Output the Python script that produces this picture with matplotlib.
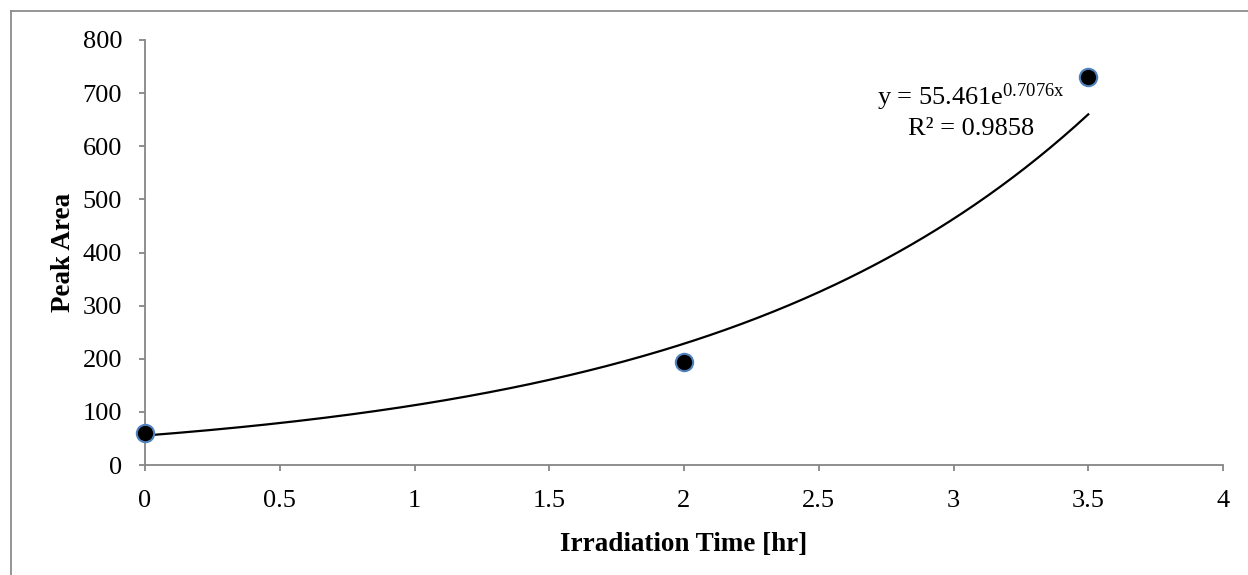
import numpy as np
import matplotlib
matplotlib.use("Agg")
import matplotlib.pyplot as plt
from matplotlib.lines import Line2D

# Measured peak areas versus irradiation time
irradiation_time = [0.0, 2.0, 3.5]
peak_area = [60, 193, 730]

# Exponential trendline parameters (y = a * exp(b * x))
fit_a = 55.461
fit_b = 0.7076
fit_r2 = 0.9858

x_ticks = [0, 0.5, 1, 1.5, 2, 2.5, 3, 3.5, 4]
y_ticks = [0, 100, 200, 300, 400, 500, 600, 700, 800]

plt.rcParams["font.family"] = ["Liberation Serif", "DejaVu Serif"]
plt.rcParams["mathtext.fontset"] = "custom"
plt.rcParams["mathtext.rm"] = "Liberation Serif"
plt.rcParams["mathtext.it"] = "Liberation Serif:italic"
plt.rcParams["mathtext.bf"] = "Liberation Serif:bold"

W, H = 1248, 575
fig = plt.figure(figsize=(W / 100, H / 100), dpi=100)
fig.patch.set_facecolor("white")

# chart area outline (top and left edges fall inside the image)
frame_col = "#8c8c8c"
fig.add_artist(Line2D([11 / W, 11 / W], [0, 1 - 11 / H], color=frame_col, lw=1.3,
                      transform=fig.transFigure))
fig.add_artist(Line2D([11 / W, 1], [1 - 11 / H, 1 - 11 / H], color=frame_col, lw=1.3,
                      transform=fig.transFigure))

ax = fig.add_axes([145 / W, (H - 465) / H, (1223 - 145) / W, (465 - 40) / H])

axis_col = "#868686"
for side in ("top", "right"):
    ax.spines[side].set_visible(False)
for side in ("left", "bottom"):
    ax.spines[side].set_color(axis_col)
    ax.spines[side].set_linewidth(1.3)

ax.set_xlim(0, 4)
ax.set_ylim(0, 800)
ax.set_xticks(x_ticks)
ax.set_xticklabels([f"{t:g}" for t in x_ticks])
ax.set_yticks(y_ticks)
ax.set_yticklabels([f"{t:g}" for t in y_ticks])
ax.tick_params(axis="both", direction="out", length=4.5, width=1.3, color=axis_col,
               labelsize=19, labelcolor="black")
ax.tick_params(axis="x", pad=13.5)
ax.tick_params(axis="y", pad=12)
for lab in ax.get_xticklabels() + ax.get_yticklabels():
    lab.set_clip_on(False)

# trendline
xs = np.linspace(0, 3.5, 300)
ax.plot(xs, fit_a * np.exp(fit_b * xs), color="black", lw=1.6, zorder=2, clip_on=False)

# data points
ax.plot(irradiation_time, peak_area, linestyle="none", marker="o", markersize=12.5,
        markerfacecolor="black", markeredgecolor="#4f81bd", markeredgewidth=1.5,
        zorder=3, clip_on=False)

ax.text(3.065, 692, r"y = %.3fe$^{\mathrm{%.4fx}}$" % (fit_a, fit_b),
        ha="center", va="center", fontsize=19)
ax.text(3.065, 633, "R² = %.4f" % fit_r2, ha="center", va="center", fontsize=19)

ax.set_xlabel("Irradiation Time [hr]", fontsize=19.5, fontweight="bold", labelpad=14.5)
ax.set_ylabel("Peak Area", fontsize=19.5, fontweight="bold", labelpad=5)

fig.savefig("out.png", dpi=100, facecolor="white")
